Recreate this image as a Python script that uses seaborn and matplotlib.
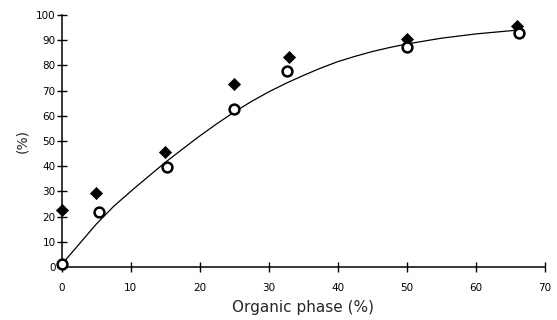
import numpy as np
import pandas as pd
import matplotlib
matplotlib.use('Agg')
import matplotlib.pyplot as plt
import seaborn as sns

# ── Data ──────────────────────────────────────────────────────
organic_x    = [0, 5, 15, 25, 33, 50, 66]
diamond_y    = [22.5, 29.5, 45.5, 72.5, 83.5, 90.5, 95.5]
circle_x     = [0, 5.4, 15.3, 25, 32.7, 50, 66.2]
circle_y     = [1.2, 21.8, 39.5, 62.8, 77.8, 87.2, 92.7]
curve_x      = [0, 2.5, 5, 7.5, 10, 12.5, 15, 17.5, 20, 22.5, 25, 27.5, 30, 32.5,
                35, 37.5, 40, 42.5, 45, 47.5, 50, 55, 60, 66]
curve_y      = [1.0, 9.0, 17.0, 24.0, 30, 35.8, 41.5, 46.8, 52, 56.9, 61.5, 65.7,
                69.5, 72.9, 76, 78.9, 81.5, 83.6, 85.5, 87.1, 88.5, 90.8, 92.5, 94]

# ── Style ─────────────────────────────────────────────────────
sns.set_theme(style="ticks")
plt.rcParams['font.family'] = ['DejaVu Sans']

fig = plt.figure(figsize=(5.57, 3.20), dpi=100)
ax = fig.add_axes([0.111, 0.166, 0.867, 0.787])

curve = pd.DataFrame({'x': curve_x, 'y': curve_y})
sns.lineplot(data=curve, x='x', y='y', ax=ax, color='black', lw=0.9)

d1 = pd.DataFrame({'x': organic_x, 'y': diamond_y})
sns.scatterplot(data=d1, x='x', y='y', ax=ax, marker='D', s=38,
                color='black', edgecolor='black', linewidth=0.5,
                clip_on=False, zorder=5)

d2 = pd.DataFrame({'x': circle_x, 'y': circle_y})
sns.scatterplot(data=d2, x='x', y='y', ax=ax, marker='o', s=50,
                facecolor='white', edgecolor='black', linewidth=1.8,
                clip_on=False, zorder=6)

ax.set_xlim(0, 70)
ax.set_ylim(0, 100)
ax.set_xticks(np.arange(0, 71, 10))
ax.set_yticks(np.arange(0, 101, 10))
ax.tick_params(direction='inout', length=7, width=1, labelsize=7.5,
               colors='black')
ax.tick_params(axis='x', pad=8)
ax.tick_params(axis='y', pad=1)
for s in ['top', 'right']:
    ax.spines[s].set_visible(False)
for s in ['left', 'bottom']:
    ax.spines[s].set_linewidth(1.1)
    ax.spines[s].set_color('black')

ax.set_xlabel("Organic phase (%)", fontsize=11, labelpad=5)
ax.set_ylabel("(%)", fontsize=10, labelpad=5)

fig.savefig("out.png", dpi=100)
plt.close(fig)
